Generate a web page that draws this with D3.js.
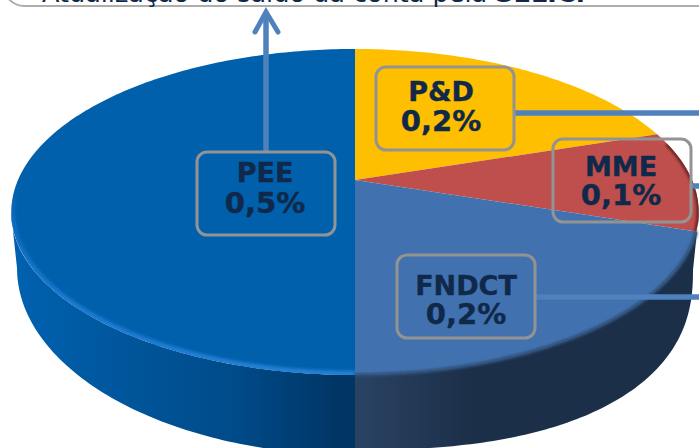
<!DOCTYPE html>
<html><head><meta charset="utf-8">
<script src="https://cdn.jsdelivr.net/npm/d3@7"></script>
<style>html,body{margin:0;padding:0;background:#fff;overflow:hidden}svg{display:block}</style>
</head><body><svg id="c" width="699" height="448"></svg>
<script>
const categories = ["PEE", "P&D", "MME", "FNDCT"];
const shares = [0.5, 0.2, 0.1, 0.2];
const shareLabels = ["0,5%", "0,2%", "0,1%", "0,2%"];
const headline = "Atualização do saldo da conta pela ";
const headlineBold = "SELIC.";

const topColors = {"PEE":"#0060ac","P&D":"#fdbf00","MME":"#be4f4d","FNDCT":"#4172af"};
// callout box origin, text centre, first and second baselines
const boxes = {"PEE":[197,152,265,182,213],"P&D":[376,67,441,101,131],"MME":[553,139,621,176,205],"FNDCT":[397,255,466,295,324]};
const W=699,H=448, boxW=138, boxH=83;
const cx=355, apexY=180, A=337, B=156.7, k=0.196;
const svg=d3.select("#c");
const defs=svg.append("defs");

const proj=(a,r=1)=>{const u=Math.sin(a)*r,v=Math.cos(a)*r,d=1+k*v;return [cx+A*u/d,apexY-B*v/d];};
const pieGen=d3.pie().sort(null).value(d=>d.v).startAngle(Math.PI).endAngle(3*Math.PI);
const arcs=pieGen(categories.map((c,i)=>({c,v:shares[i]})));
const line=d3.line();
const wedge=(s,e)=>{const n=Math.max(8,Math.ceil((e-s)*60));const pts=[[cx,apexY]];
  d3.range(n+1).forEach(i=>pts.push(proj(s+(e-s)*i/n)));return line(pts)+"Z";};

// side wall
const topE={cy:212,rx:344,ry:163};
const sideGrad=(id,stops)=>{const g=defs.append("linearGradient").attr("id",id).attr("gradientUnits","userSpaceOnUse")
  .attr("x1",0).attr("x2",W).attr("y1",0).attr("y2",0);
  stops.forEach(s=>g.append("stop").attr("offset",s[0]/W).attr("stop-color",s[1]));};
sideGrad("sideAll",[[11,"#0062b0"],[120,"#00569c"],[240,"#004a88"],[340,"#003564"],[354.5,"#003564"],[355.5,"#2a4363"],[470,"#1c2f49"],[699,"#1c2f49"]]);
const steps=d3.range(0,91);
const lowerLeft=steps.map(i=>{const t=Math.PI/2*(i/90);return [cx-338*Math.cos(t),268+187*Math.sin(t)];});
const lowerRight=steps.map(i=>{const t=Math.PI/2*(i/90),p=2/2.4;return [cx+338*Math.pow(Math.sin(t),p),270+180*Math.pow(Math.cos(t),p)];});
const upperPts=d3.range(0,181).map(i=>{const t=Math.PI*(i/180);return [cx-topE.rx*Math.cos(t),topE.cy+topE.ry*Math.sin(t)];});
svg.append("path").attr("d",line(upperPts.concat(lowerRight.slice().reverse(),lowerLeft.slice().reverse()))+"Z").attr("fill","url(#sideAll)");

// top faces
const g=svg.append("g");
arcs.forEach(a=>g.append("path").attr("d",wedge(a.startAngle,a.endAngle)).attr("fill",topColors[a.data.c]));

// soft rim
const blur=(id,sd)=>defs.append("filter").attr("id",id).attr("x","-10%").attr("y","-10%").attr("width","120%").attr("height","120%").append("feGaussianBlur").attr("stdDeviation",sd);
blur("soft",1.6); blur("soft2",1.2);
defs.append("clipPath").attr("id","topClip").append("path").attr("d",wedge(0,2*Math.PI));
const rimGrad=defs.append("linearGradient").attr("id","rim").attr("gradientUnits","userSpaceOnUse").attr("x1",0).attr("x2",0).attr("y1",185).attr("y2",370);
[[0,"#1a78cf",0],[.2,"#1272c8",.7],[.6,"#1a78cf",1],[1,"#2180d4",1]].forEach(s=>rimGrad.append("stop").attr("offset",s[0]).attr("stop-color",s[1]).attr("stop-opacity",s[2]));
const rimPts=d3.range(180,300).map(i=>proj(i/180*Math.PI));
svg.append("g").attr("clip-path","url(#topClip)").append("path").attr("d",line(rimPts)).attr("fill","none").attr("stroke","url(#rim)").attr("stroke-width",8).attr("filter","url(#soft)");
// blurred edge on FNDCT and MME
const arcPts=(s,e)=>d3.range(s,e+1).map(i=>proj(i/180*Math.PI));
svg.append("path").attr("d",line(arcPts(108,180))).attr("fill","none").attr("stroke","#2f5078").attr("stroke-width",3.5).attr("filter","url(#soft2)");
svg.append("g").attr("clip-path","url(#topClip)").append("path").attr("d",line(arcPts(76,108))).attr("fill","none").attr("stroke","#6f2826").attr("stroke-width",5).attr("filter","url(#soft2)");

// connectors
const blue="#4f81bd";
const conn=(x1,y1,x2,y2)=>svg.append("line").attr("x1",x1).attr("y1",y1).attr("x2",x2).attr("y2",y2).attr("stroke",blue).attr("stroke-width",5.5);
conn(boxes["P&D"][0]+boxW,113,W,113);
conn(boxes["MME"][0]+boxW,186,W,186);
conn(boxes["FNDCT"][0]+boxW,297,W,297);
conn(266,boxes["PEE"][1],266,14);
svg.append("path").attr("d","M255,32L266,12L278,32").attr("fill","none").attr("stroke",blue).attr("stroke-width",5).attr("stroke-linecap","round");

// headline box
svg.append("rect").attr("x",4).attr("y",-60).attr("width",W+20).attr("height",66).attr("rx",20).attr("fill","#fff").attr("stroke","#adadad").attr("stroke-width",2);
const h=svg.append("text").attr("x",42).attr("y",2).attr("font-family","DejaVu Sans").attr("font-size",25.5).attr("fill","#10294a");
h.append("tspan").text(headline);
h.append("tspan").attr("font-weight","bold").text(headlineBold);

// callouts
categories.forEach((c,i)=>{
  const [x,y,tx,y1,y2]=boxes[c];
  svg.append("rect").attr("x",x).attr("y",y).attr("width",boxW).attr("height",boxH).attr("rx",10).attr("fill","none").attr("stroke","#939393").attr("stroke-width",3);
  const t=svg.append("text").attr("text-anchor","middle").attr("font-family","DejaVu Sans").attr("font-weight","bold").attr("font-size",27).attr("fill","#10294a").attr("stroke","#10294a").attr("stroke-width",.4);
  t.append("tspan").attr("x",tx).attr("y",y1).text(c);
  t.append("tspan").attr("x",tx).attr("y",y2).attr("font-size",29).text(shareLabels[i]);
});
</script></body></html>
